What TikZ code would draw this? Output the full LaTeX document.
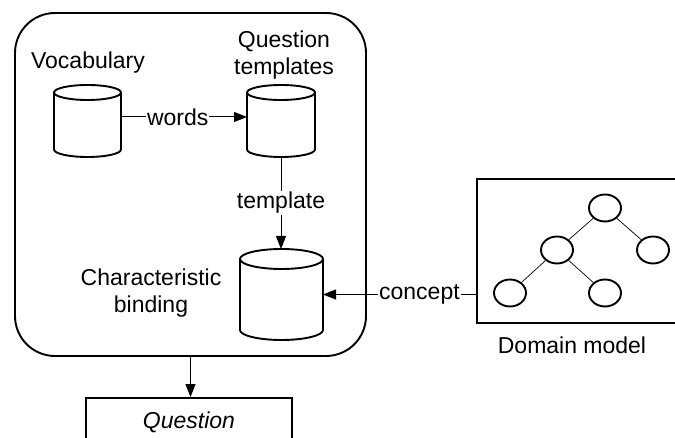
\documentclass[tikz,border=0pt]{standalone}
\usepackage{fontspec}
\setmainfont{Liberation Sans}
\usetikzlibrary{arrows.meta,calc}
\tikzset{
  thickline/.style={line width=1.9pt},
  cylbox/.style={inner sep=0pt, outer sep=0pt, draw=none},
  conn/.style={line width=1pt, -{Triangle[length=13pt,width=10pt]}},
  lbl/.style={fill=white, inner sep=1pt, font=\fontsize{23}{27}\selectfont},
  txt/.style={align=center, inner sep=0pt, font=\fontsize{23}{27}\selectfont},
  treenode/.style={ellipse, draw, line width=1.9pt, minimum width=32pt, minimum height=27pt, inner sep=0pt},
  treeedge/.style={line width=0.7pt},
}
\usetikzlibrary{shapes.geometric}
\newcommand\drawcyl[3]{%
  \draw[thickline, fill=white] ([yshift=-#3]#1.north west) -- ([yshift=#3]#1.south west)
    arc[start angle=180, end angle=360, x radius=#2, y radius=#3]
    -- ([yshift=-#3]#1.north east)
    arc[start angle=0, end angle=180, x radius=#2, y radius=#3]
    arc[start angle=180, end angle=360, x radius=#2, y radius=#3];}
\begin{document}
\begin{tikzpicture}[x=1pt,y=1pt]
\useasboundingbox (0,0) rectangle (675,438);
% outer rounded box
\node[draw, thickline, rounded corners=40pt, minimum width=351pt, minimum height=343pt, inner sep=0pt] (outer) at (190.5,253.5) {};
% cylinders
\node[cylbox, minimum width=67pt, minimum height=72pt] (voc) at (87.5,317) {};
\drawcyl{voc}{33.5pt}{7.5pt}
\node[cylbox, minimum width=68pt, minimum height=72pt] (qt) at (281,317) {};
\drawcyl{qt}{34pt}{7.5pt}
\node[cylbox, minimum width=83pt, minimum height=91pt] (cb) at (281.5,143.5) {};
\drawcyl{cb}{41.5pt}{10pt}
% labels
\node[txt] (voclbl) at (88,375) {Vocabulary};
\node[txt] (qtlbl) at (284,383) {Question\\templates};
\node[txt] (cblbl) at (151,145) {Characteristic\\binding};
% domain model
\node[draw, thickline, minimum width=200pt, minimum height=144pt, inner sep=0pt] (dom) at (577,187) {};
\node[txt] (domlbl) at (572,93) {Domain model};
\node[treenode] (t1) at (605,230) {};
\node[treenode] (t2) at (557,188) {};
\node[treenode] (t3) at (653,188) {};
\node[treenode] (t4) at (510,145) {};
\node[treenode] (t5) at (605,145) {};
\draw[treeedge] (t1) -- (t2);
\draw[treeedge] (t1) -- (t3);
\draw[treeedge] (t2) -- (t4);
\draw[treeedge] (t2) -- (t5);
% question box
\node[draw, thickline, minimum width=206pt, minimum height=50pt, inner sep=0pt, font=\fontsize{23}{27}\selectfont\itshape] (q) at (189,15) {\raisebox{6pt}{Question}};
% connectors
\draw[conn] ([yshift=4pt]voc.east) -- node[lbl, pos=0.45] {words} ([yshift=4pt]qt.west);
\draw[conn] (qt.south) -- node[lbl] {template} (qt.south |- cb.north);
\draw[conn] (dom.west |- cb.east) -- node[lbl, pos=0.37] {concept} (cb.east);
\draw[conn] (outer.south) -- (outer.south |- q.north);
\end{tikzpicture}
\end{document}
